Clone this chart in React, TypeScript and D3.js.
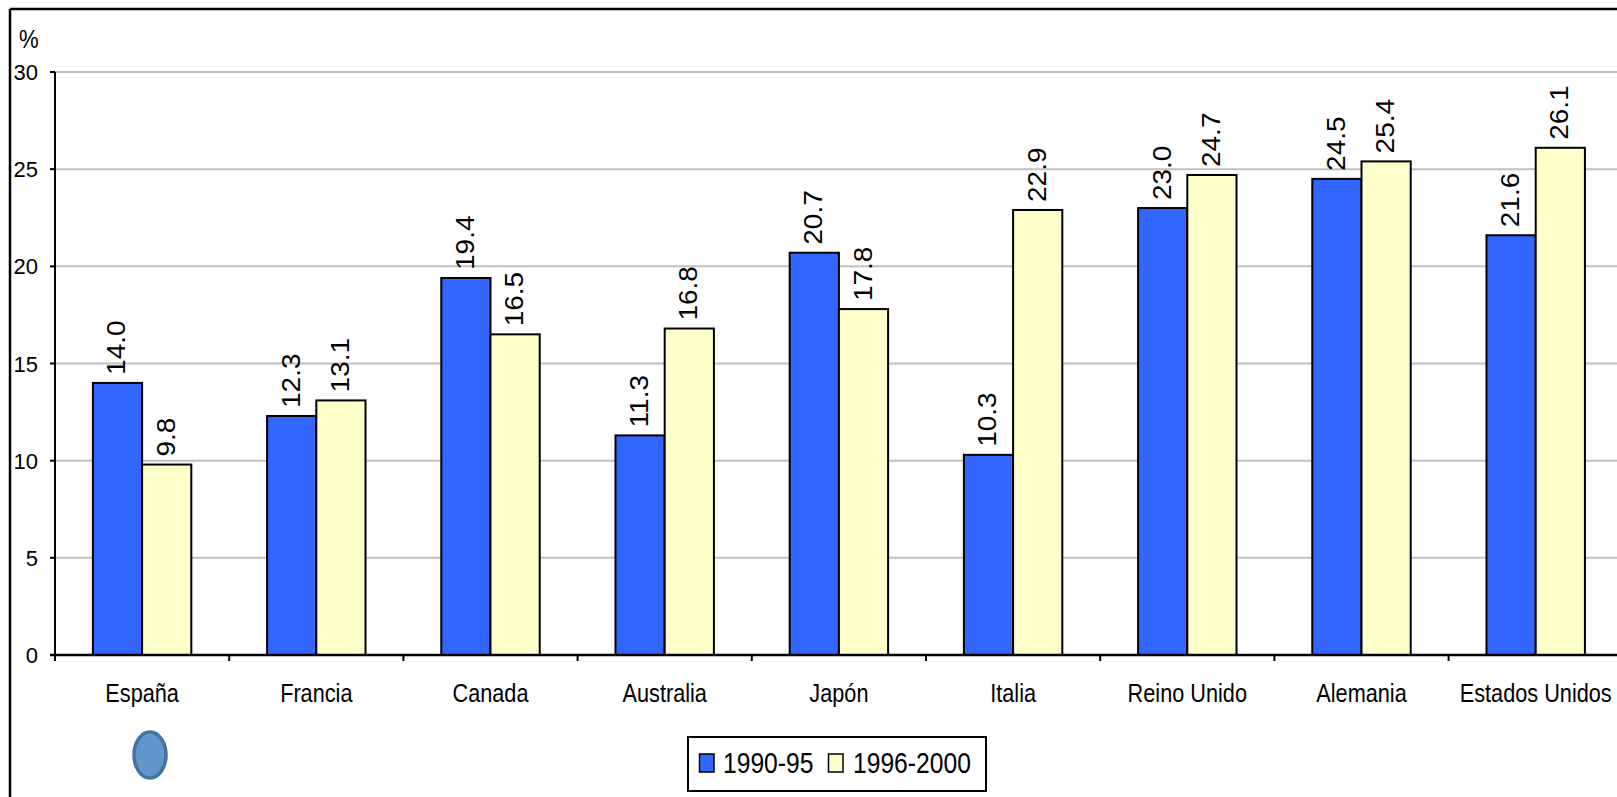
import React from "react";
import * as d3 from "d3";

// Participación por país y periodo (%)
const categories = [
  "España",
  "Francia",
  "Canada",
  "Australia",
  "Japón",
  "Italia",
  "Reino Unido",
  "Alemania",
  "Estados Unidos",
];
const seriesNames = ["1990-95", "1996-2000"];
const values9095 = [14.0, 12.3, 19.4, 11.3, 20.7, 10.3, 23.0, 24.5, 21.6];
const values9600 = [9.8, 13.1, 16.5, 16.8, 17.8, 22.9, 24.7, 25.4, 26.1];
const yTicks = [0, 5, 10, 15, 20, 25, 30];

const W = 1617;
const H = 797;
const FONT = "'Liberation Sans', Arial, sans-serif";
const COLORS = ["#3366FF", "#FFFFCC"];

export default function App() {
  const left = 55;
  const step = 174.2;
  const x0 = d3
    .scaleBand<string>()
    .domain(categories)
    .range([left, left + step * categories.length])
    .paddingInner(0)
    .paddingOuter(0);
  const x1 = d3
    .scaleBand<string>()
    .domain(seriesNames)
    .range([0, x0.bandwidth()])
    .paddingInner(0)
    .paddingOuter(0.77);
  const y = d3.scaleLinear().domain([0, 30]).range([655, 72]);

  const series = [values9095, values9600];
  const fmt = d3.format(".1f");

  return (
    <div style={{ position: "absolute", left: 0, top: 0 }}>
      <svg width={W} height={H} style={{ display: "block", background: "#fff" }}>
        {/* outer frame */}
        <line x1={10} y1={9} x2={W} y2={9} stroke="#000" strokeWidth={2.5} />
        <line x1={10} y1={9} x2={10} y2={H} stroke="#000" strokeWidth={2.5} />

        {/* unit label */}
        <g transform="translate(19,48) scale(0.85,1)">
          <text x={0} y={0} fontFamily={FONT} fontSize={26} fill="#000">
            %
          </text>
        </g>

        {/* gridlines */}
        {yTicks
          .filter((t) => t > 0)
          .map((t) => (
            <line
              key={"g" + t}
              x1={left}
              x2={W}
              y1={y(t)}
              y2={y(t)}
              stroke="#C0C0C0"
              strokeWidth={2}
            />
          ))}

        {/* bars */}
        {categories.map((c, ci) =>
          seriesNames.map((s, si) => {
            const v = series[si][ci];
            const bx = (x0(c) as number) + (x1(s) as number);
            return (
              <rect
                key={c + s}
                x={bx}
                y={y(v)}
                width={x1.bandwidth()}
                height={y(0) - y(v)}
                fill={COLORS[si]}
                stroke="#000"
                strokeWidth={2}
              />
            );
          })
        )}

        {/* value labels */}
        {categories.map((c, ci) =>
          seriesNames.map((s, si) => {
            const v = series[si][ci];
            const cx = (x0(c) as number) + (x1(s) as number) + x1.bandwidth() / 2;
            return (
              <g
                key={"v" + c + s}
                transform={`translate(${cx + 8},${y(v) - 8}) rotate(-90) scale(1,0.93)`}
              >
                <text x={0} y={0} fontFamily={FONT} fontSize={28} fill="#000">
                  {fmt(v)}
                </text>
              </g>
            );
          })
        )}

        {/* y axis */}
        <line x1={left} x2={left} y1={y(30)} y2={y(0)} stroke="#000" strokeWidth={2} />
        {yTicks.map((t) => (
          <g key={"t" + t}>
            <line x1={left - 5} x2={left} y1={y(t)} y2={y(t)} stroke="#000" strokeWidth={2} />
            <text
              x={38}
              y={y(t) + 8}
              textAnchor="end"
              fontFamily={FONT}
              fontSize={22}
              fill="#000"
            >
              {t}
            </text>
          </g>
        ))}

        {/* x axis */}
        <line x1={left - 5} x2={W} y1={y(0)} y2={y(0)} stroke="#000" strokeWidth={2.5} />
        {categories.map((c) => (
          <line
            key={"xt" + c}
            x1={x0(c) as number}
            x2={x0(c) as number}
            y1={y(0)}
            y2={y(0) + 6}
            stroke="#000"
            strokeWidth={2}
          />
        ))}
        {categories.map((c) => (
          <g
            key={"xl" + c}
            transform={`translate(${(x0(c) as number) + x0.bandwidth() / 2},702) scale(0.835,1)`}
          >
            <text x={0} y={0} textAnchor="middle" fontFamily={FONT} fontSize={26} fill="#000">
              {c}
            </text>
          </g>
        ))}

        {/* marker */}
        <ellipse cx={150} cy={755} rx={16} ry={23} fill="#6096C9" stroke="#44739F" strokeWidth={3.5} />

        {/* legend */}
        <rect x={688} y={737} width={298} height={54} fill="#fff" stroke="#000" strokeWidth={2} />
        <rect x={699.5} y={754} width={14.5} height={18} fill={COLORS[0]} stroke="#000" strokeWidth={1.5} />
        <g transform="translate(723,772.5) scale(0.85,1)">
          <text x={0} y={0} fontFamily={FONT} fontSize={29} fill="#000">
            {seriesNames[0]}
          </text>
        </g>
        <rect x={828.5} y={754} width={14.5} height={18} fill={COLORS[1]} stroke="#000" strokeWidth={1.5} />
        <g transform="translate(853,772.5) scale(0.85,1)">
          <text x={0} y={0} fontFamily={FONT} fontSize={29} fill="#000">
            {seriesNames[1]}
          </text>
        </g>
      </svg>
    </div>
  );
}
